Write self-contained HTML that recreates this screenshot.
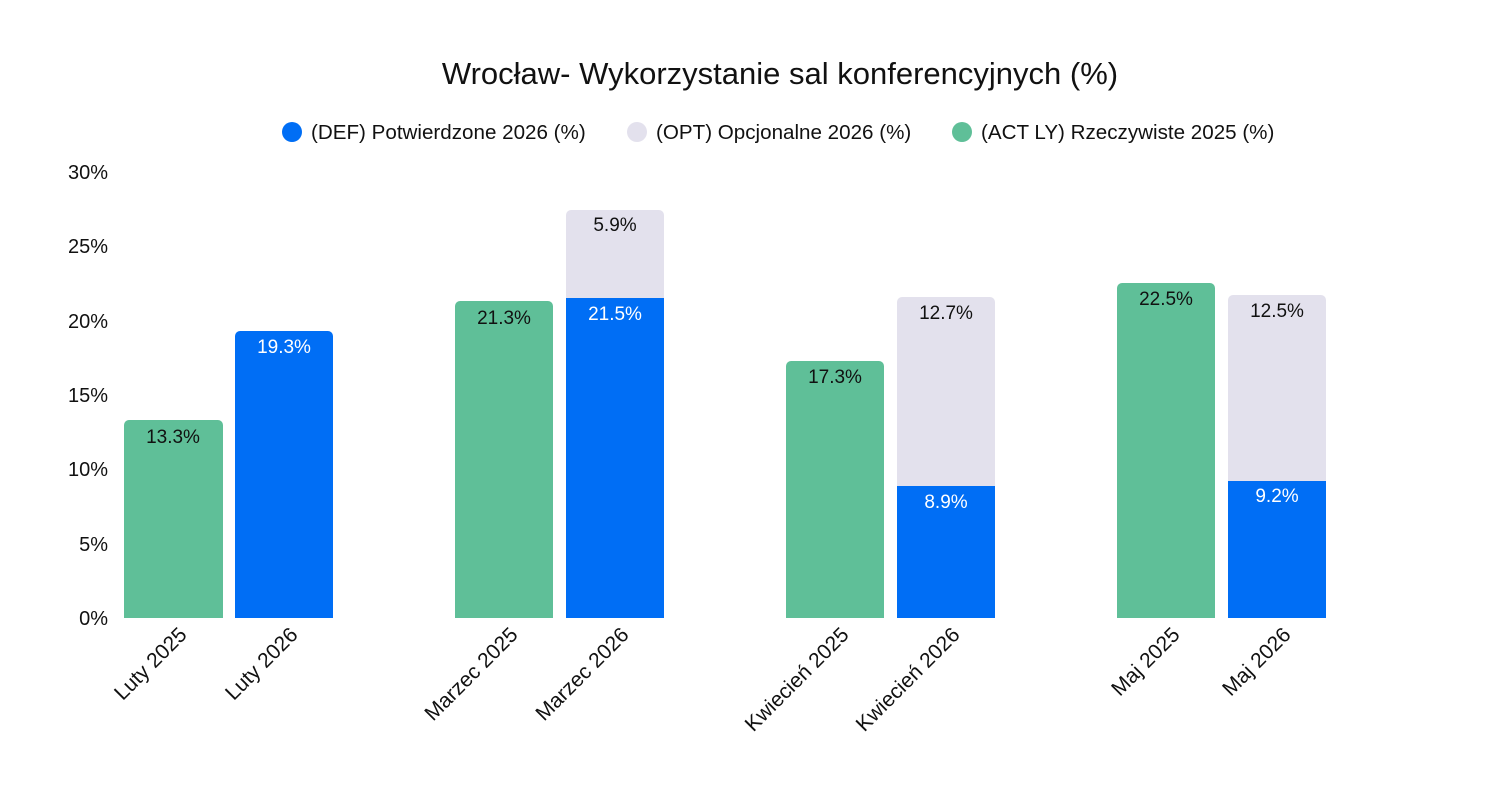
<!DOCTYPE html>
<html><head><meta charset="utf-8"><style>body{margin:0;background:#fff}svg{display:block;font-family:"Liberation Sans",sans-serif}</style></head><body>
<svg width="1500" height="804" xmlns="http://www.w3.org/2000/svg">
<text x="780" y="84" font-size="31" text-anchor="middle" fill="#111">Wrocław- Wykorzystanie sal konferencyjnych (%)</text>
<g font-size="20.6" fill="#111">
<circle cx="292" cy="132" r="10" fill="#006ef5"/><text x="311" y="139">(DEF) Potwierdzone 2026 (%)</text>
<circle cx="637" cy="132" r="10" fill="#e3e1ed"/><text x="656" y="139">(OPT) Opcjonalne 2026 (%)</text>
<circle cx="962" cy="132" r="10" fill="#5fbf98"/><text x="981" y="139">(ACT LY) Rzeczywiste 2025 (%)</text>
</g>
<g font-size="20" fill="#111" text-anchor="end">
<text x="108" y="179">30%</text><text x="108" y="253">25%</text><text x="108" y="328">20%</text><text x="108" y="402">15%</text><text x="108" y="476">10%</text><text x="108" y="551">5%</text><text x="108" y="625">0%</text>
</g>
<g>
<path d="M124 618V425a5 5 0 0 1 5-5h89a5 5 0 0 1 5 5V618Z" fill="#5fbf98"/>
<path d="M235 618V336a5 5 0 0 1 5-5h88a5 5 0 0 1 5 5V618Z" fill="#006ef5"/>
<path d="M455 618V306a5 5 0 0 1 5-5h88a5 5 0 0 1 5 5V618Z" fill="#5fbf98"/>
<path d="M566 298V215a5 5 0 0 1 5-5h88a5 5 0 0 1 5 5V298Z" fill="#e3e1ed"/>
<rect x="566" y="298" width="98" height="320" fill="#006ef5"/>
<path d="M786 618V366a5 5 0 0 1 5-5h88a5 5 0 0 1 5 5V618Z" fill="#5fbf98"/>
<path d="M897 486V302a5 5 0 0 1 5-5h88a5 5 0 0 1 5 5V486Z" fill="#e3e1ed"/>
<rect x="897" y="486" width="98" height="132" fill="#006ef5"/>
<path d="M1117 618V288a5 5 0 0 1 5-5h88a5 5 0 0 1 5 5V618Z" fill="#5fbf98"/>
<path d="M1228 481V300a5 5 0 0 1 5-5h88a5 5 0 0 1 5 5V481Z" fill="#e3e1ed"/>
<rect x="1228" y="481" width="98" height="137" fill="#006ef5"/>
</g>
<g font-size="19" text-anchor="middle">
<text x="173" y="443" fill="#111">13.3%</text>
<text x="284" y="353" fill="#fff">19.3%</text>
<text x="504" y="324" fill="#111">21.3%</text>
<text x="615" y="231" fill="#111">5.9%</text>
<text x="615" y="320" fill="#fff">21.5%</text>
<text x="835" y="383" fill="#111">17.3%</text>
<text x="946" y="319" fill="#111">12.7%</text>
<text x="946" y="508" fill="#fff">8.9%</text>
<text x="1166" y="305" fill="#111">22.5%</text>
<text x="1277" y="317" fill="#111">12.5%</text>
<text x="1277" y="502" fill="#fff">9.2%</text>
</g>
<g font-size="21" fill="#111" text-anchor="end">
<text transform="translate(188,636) rotate(-45)">Luty 2025</text>
<text transform="translate(299,636) rotate(-45)">Luty 2026</text>
<text transform="translate(519,636) rotate(-45)">Marzec 2025</text>
<text transform="translate(630,636) rotate(-45)">Marzec 2026</text>
<text transform="translate(850,636) rotate(-45)">Kwiecień 2025</text>
<text transform="translate(961,636) rotate(-45)">Kwiecień 2026</text>
<text transform="translate(1181,636) rotate(-45)">Maj 2025</text>
<text transform="translate(1292,636) rotate(-45)">Maj 2026</text>
</g>
</svg>
</body></html>
